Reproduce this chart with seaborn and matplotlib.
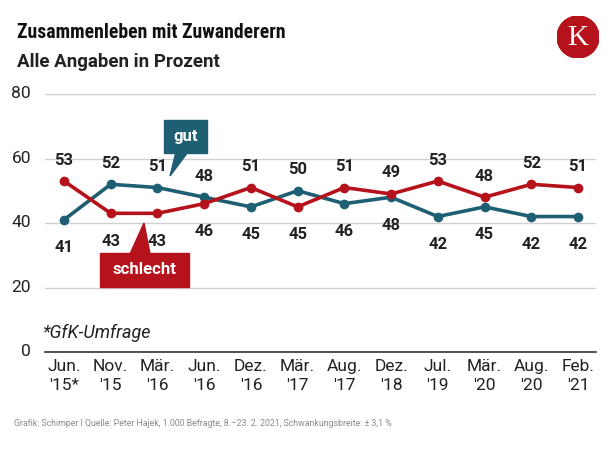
import matplotlib
matplotlib.use("Agg")
import matplotlib.pyplot as plt
from matplotlib.patches import Polygon, Circle, Rectangle
import seaborn as sns
import pandas as pd

# ---- data ----
months = ["Jun.\n'15*", "Nov.\n'15", "Mär.\n'16", "Jun.\n'16", "Dez.\n'16", "Mär.\n'17",
          "Aug.\n'17", "Dez.\n'18", "Jul.\n'19", "Mär.\n'20", "Aug.\n'20", "Feb.\n'21"]
gut = [41, 52, 51, 48, 45, 50, 46, 48, 42, 45, 42, 42]
schlecht = [53, 43, 43, 46, 51, 45, 51, 49, 53, 48, 52, 51]
yticks = [0, 20, 40, 60, 80]

title = "Zusammenleben mit Zuwanderern"
subtitle = "Alle Angaben in Prozent"
note = "*GfK-Umfrage"
footer = "Grafik: Schimper I Quelle: Peter Hajek, 1.000 Befragte, 8.–23. 2. 2021, Schwankungsbreite: ± 3,1 %"

TEAL = "#1e5f74"
RED = "#b5121b"

sns.set_theme(style="white")
plt.rcParams["font.family"] = ["Roboto", "DejaVu Sans"]
NARROW = ["Roboto Condensed", "Liberation Sans Narrow", "Roboto", "DejaVu Sans"]

W, H = 616, 449
fig = plt.figure(figsize=(W / 100, H / 100), dpi=100)

def fx(x):
    return x / W

def fy(y):
    return 1 - y / H

ax = fig.add_axes([fx(45), fy(352), fx(596) - fx(45), fy(94) - fy(352)])

n = len(months)
df = pd.DataFrame({
    "idx": list(range(n)) * 2,
    "value": gut + schlecht,
    "serie": ["gut"] * n + ["schlecht"] * n,
})
sns.lineplot(data=df, x="idx", y="value", hue="serie", palette={"gut": TEAL, "schlecht": RED},
             marker="o", markersize=7, markeredgewidth=0, linewidth=2.6, legend=False, ax=ax,
             zorder=3)

ax.set_xlim(-0.407, 11.385)
ax.set_ylim(0, 80)
ax.set_yticks(yticks)
ax.set_yticklabels([str(v) for v in yticks])
ax.set_xticks(range(n))
ax.set_xticklabels(months, linespacing=1.35)
ax.set_xlabel("")
ax.set_ylabel("")
ax.grid(axis="y", color="#d0d0d0", linewidth=1)
ax.set_axisbelow(True)
for s in ["left", "right", "top"]:
    ax.spines[s].set_visible(False)
ax.spines["bottom"].set_color("#333333")
ax.spines["bottom"].set_linewidth(1.2)
ax.tick_params(axis="y", length=0, pad=10, labelsize=12.5, labelcolor="#222222")
ax.tick_params(axis="x", length=0, pad=5, labelsize=12.5, labelcolor="#222222")
for lab in ax.get_yticklabels():
    lab.set_verticalalignment("center")

# value labels
for i in range(n):
    for vals in (gut, schlecht):
        other = schlecht if vals is gut else gut
        v = vals[i]
        off = 21 if v > other[i] else -28
        ax.annotate(str(v), (i, v), xytext=(0, off), textcoords="offset pixels",
                    ha="center", va="center", fontsize=12, fontweight="bold",
                    color="#222222", zorder=4)

# callouts
fig.patches.append(Rectangle((fx(164), fy(153)), fx(207) - fx(164), fy(120) - fy(153),
                             transform=fig.transFigure, color=TEAL, zorder=5))
fig.patches.append(Polygon([(fx(176), fy(152)), (fx(188), fy(152)), (fx(170), fy(176))],
                           closed=True, transform=fig.transFigure, color=TEAL, zorder=5))
fig.text(fx(185.5), fy(137), "gut", ha="center", va="center", color="white",
         fontsize=12, fontweight="bold", zorder=6)

fig.patches.append(Rectangle((fx(100), fy(287)), fx(189) - fx(100), fy(253) - fy(287),
                             transform=fig.transFigure, color=RED, zorder=5))
fig.patches.append(Polygon([(fx(130), fy(254)), (fx(150), fy(254)), (fx(144), fy(223))],
                           closed=True, transform=fig.transFigure, color=RED, zorder=5))
fig.text(fx(144.5), fy(270), "schlecht", ha="center", va="center", color="white",
         fontsize=12, fontweight="bold", zorder=6)

# titles
fig.text(fx(17), fy(33), title, ha="left", va="center", fontsize=14.2, fontweight="bold",
         color="#111111", family=NARROW)
fig.text(fx(17), fy(62), subtitle, ha="left", va="center", fontsize=13.5, fontweight="bold",
         color="#222222")
fig.text(fx(42), fy(333), note, ha="left", va="center", fontsize=13, fontstyle="italic",
         color="#222222")
fig.text(fx(14), fy(423), footer, ha="left", va="center", fontsize=6.3, color="#8a8a8a")

# logo
logo_ax = fig.add_axes([fx(557), fy(58), 42 / W, 42 / H])
logo_ax.set_axis_off()
logo_ax.set_xlim(0, 1)
logo_ax.set_ylim(0, 1)
logo_ax.add_patch(Circle((0.5, 0.5), 0.5, color=RED))
logo_ax.text(0.5, 0.47, "K", ha="center", va="center", color="white", fontsize=21,
             family=["Liberation Serif", "DejaVu Serif"])

fig.savefig("out.png", dpi=100, facecolor="white")
